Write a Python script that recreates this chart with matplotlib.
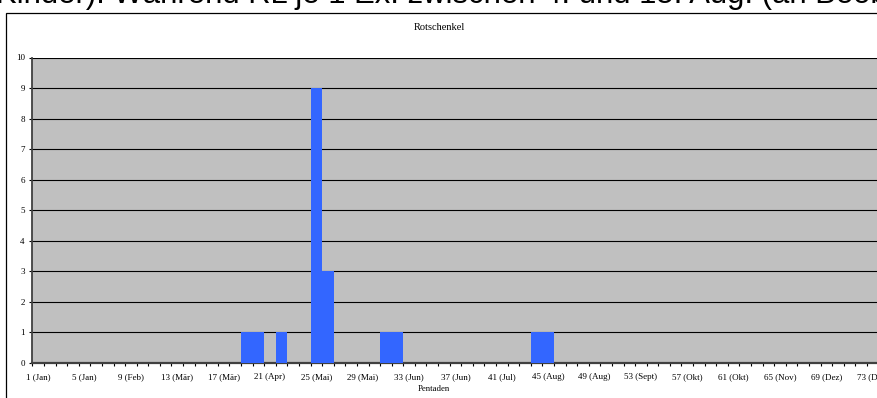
import matplotlib
matplotlib.use("Agg")
import matplotlib.pyplot as plt
from matplotlib.patches import Rectangle

# Rotschenkel - Summe je Pentade
pentaden = list(range(1, 74))
anzahl = [0, 0, 0, 0, 0, 0, 0, 0, 0, 0,
          0, 0, 0, 0, 0, 0, 0, 0, 1, 1,
          0, 1, 0, 0, 9, 3, 0, 0, 0, 0,
          1, 1, 0, 0, 0, 0, 0, 0, 0, 0,
          0, 0, 0, 1, 1, 0, 0, 0, 0, 0,
          0, 0, 0, 0, 0, 0, 0, 0, 0, 0,
          0, 0, 0, 0, 0, 0, 0, 0, 0, 0,
          0, 0, 0]
label_pos = list(range(1, 74, 4))
label_txt = ["1 (Jan)", "5 (Jan)", "9 (Feb)", "13 (Mär)", "17 (Mär)", "21 (Apr)",
             "25 (Mai)", "29 (Mai)", "33 (Jun)", "37 (Jun)", "41 (Jul)", "45 (Aug)",
             "49 (Aug)", "53 (Sept)", "57 (Okt)", "61 (Okt)", "65 (Nov)", "69 (Dez)",
             "73 (Dez)"]

W, H = 877, 398
fig = plt.figure(figsize=(W / 100, H / 100), dpi=100)
serif = "Liberation Serif"

# angeschnittene Textzeile des Dokuments oben
fig.text(-4 / W, 1 - 3.0 / H,
         "Kinder). Während RL je 1 Ex. zwischen 4. und 15. Aug. (an Beob",
         family="Liberation Sans", fontsize=22.3, va="baseline", ha="left")

# Rahmen des Diagramms
fig.add_artist(Rectangle((6 / W, -0.05), 1.0, 1.05 - 12.5 / H, transform=fig.transFigure,
                         fill=False, lw=0.9, ec="black"))

left, right, top, bottom = 32.4, 878.5, 57.5, 362.7
ax = fig.add_axes([left / W, 1 - bottom / H, (right - left) / W, (bottom - top) / H])
ax.set_facecolor("#c0c0c0")
ax.bar(pentaden, anzahl, width=1.0, color="#3366ff", zorder=3)
ax.set_xlim(0.5, 73.5)
ax.set_ylim(0, 10)
ax.set_axisbelow(True)
ax.yaxis.grid(True, color="black", lw=0.8)

ax.set_yticks(range(0, 11))
ax.set_xticks(label_pos)
ax.set_xticklabels(label_txt)
ax.set_xticks([p + 0.5 for p in range(0, 74)], minor=True)
ax.tick_params(axis="x", which="major", length=0, pad=7.5, labelsize=6.5)
ax.tick_params(axis="x", which="minor", length=2.5, width=0.8, direction="out")
ax.tick_params(axis="y", length=2.5, width=0.8, pad=3, labelsize=6.5)
for lab in ax.get_xticklabels() + ax.get_yticklabels():
    lab.set_family(serif)

for s in ["top", "right"]:
    ax.spines[s].set_visible(False)
ax.spines["left"].set_color("#404040")
ax.spines["left"].set_linewidth(1.3)
ax.spines["bottom"].set_color("#404040")
ax.spines["bottom"].set_linewidth(1.6)

fig.text(439 / W, 1 - 30 / H, "Rotschenkel", family=serif, fontsize=7.5,
         ha="center", va="baseline")
fig.text(434 / W, 1 - 389 / H, "Pentaden", family=serif, fontsize=6.3,
         ha="center", va="center")

fig.savefig("out.png", dpi=100)
